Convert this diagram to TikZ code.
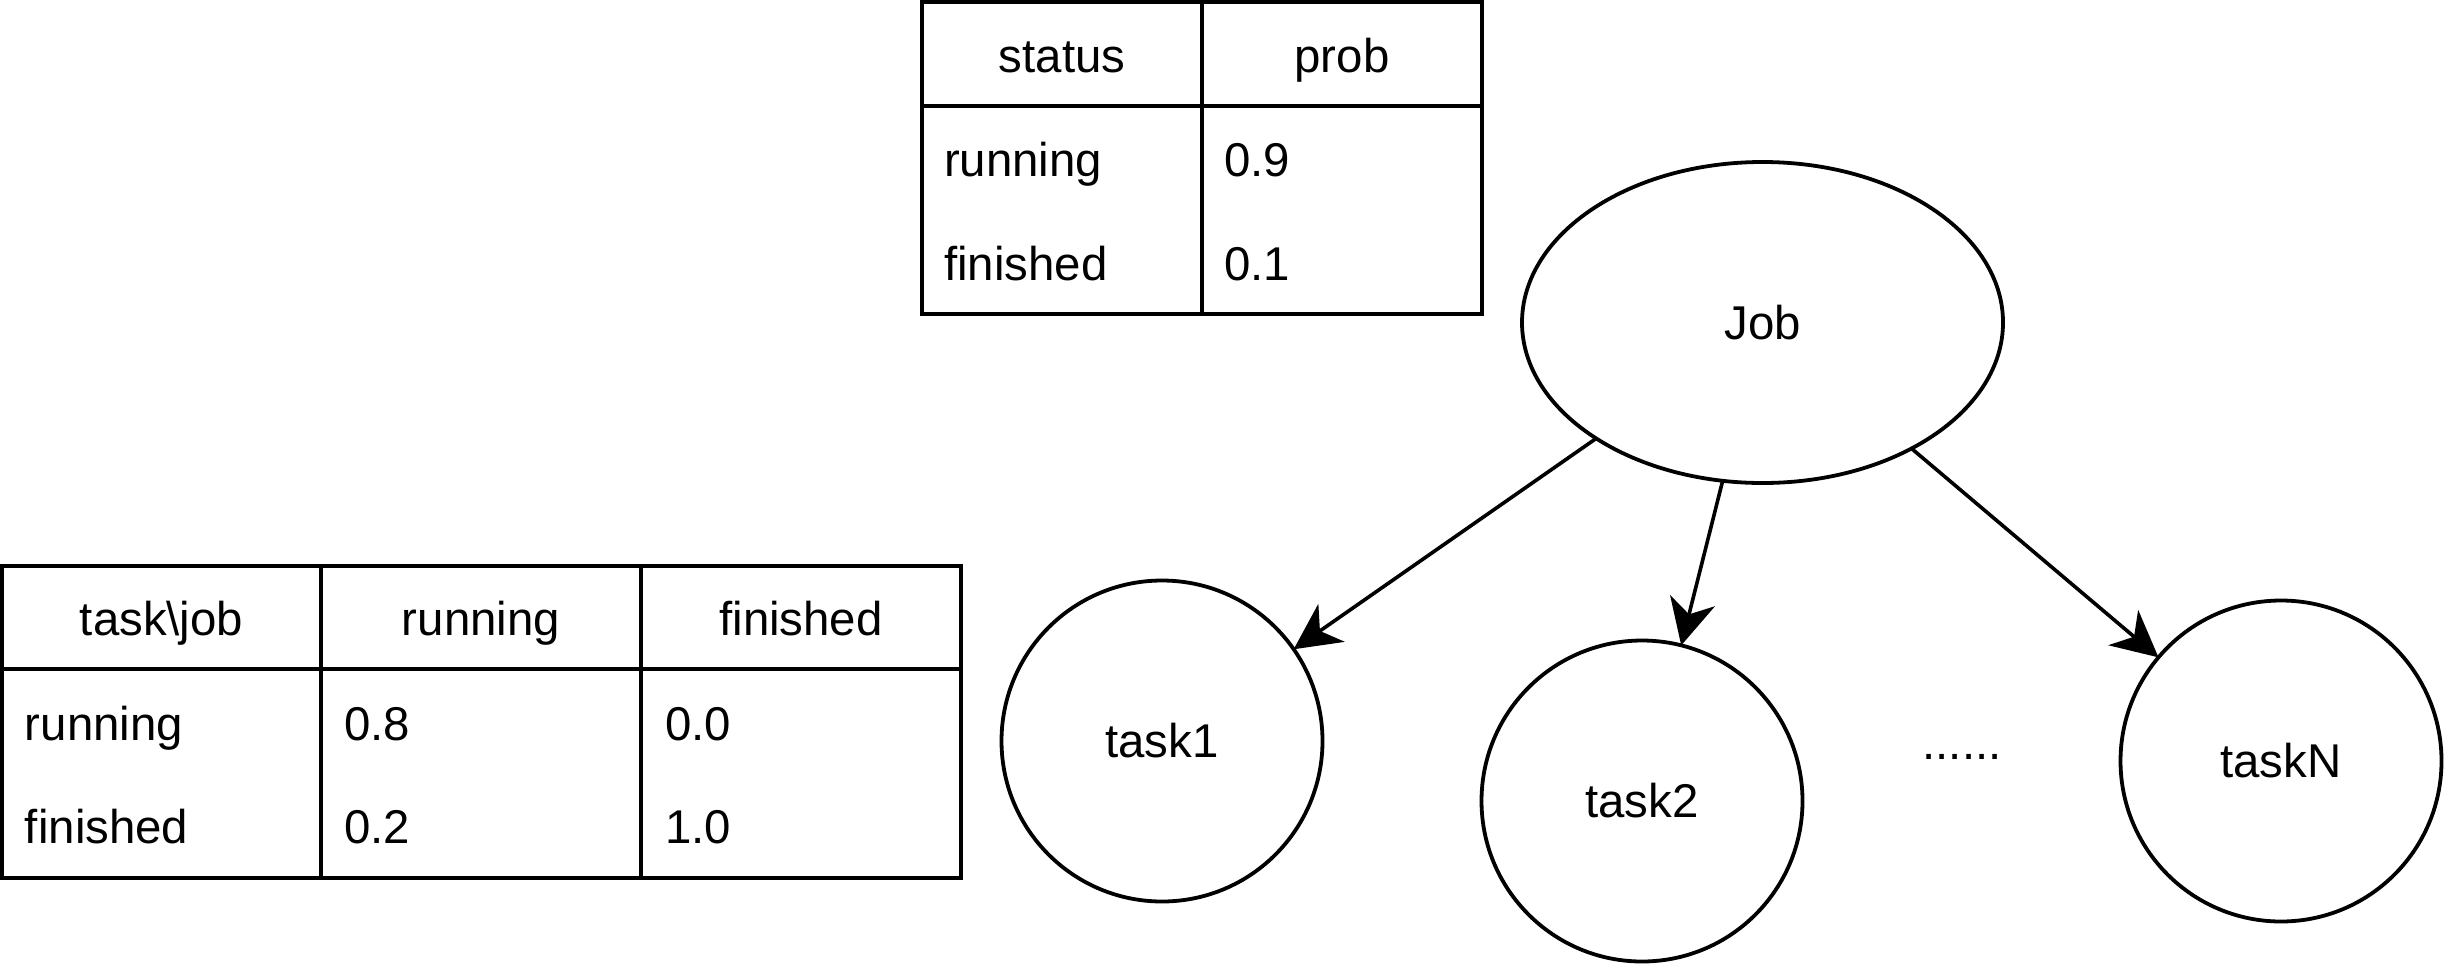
\documentclass[tikz,border=0pt]{standalone}
\usepackage{fontspec}
\setmainfont{Liberation Sans}
\usetikzlibrary{arrows.meta,shapes.geometric}
\begin{document}
\begin{tikzpicture}[x=0.5pt,y=-0.5pt,line width=1.9pt,
  every node/.style={font=\fontsize{23.7}{28}\selectfont,inner sep=0pt,outer sep=0pt},
  grid/.style={draw,line width=1.9pt},
  cell/.style={anchor=base west},
  head/.style={anchor=base},
  circ/.style={draw,circle,minimum size=160.5pt},
  jobshape/.style={draw,ellipse,minimum width=240.5pt,minimum height=160.5pt},
  link/.style={-{Stealth[length=23pt,width=23pt,inset=7pt]},line width=1.8pt}]
\useasboundingbox (0,0) rectangle (2444,964);
% top table
\draw[grid] (922,2) rectangle (1482,314) (1202,2) -- (1202,314) (922,106) -- (1482,106);
\node[head] (hstatus) at (1062,72) {status};
\node[head] (hprob) at (1342,72) {prob};
\node[cell] (srun) at (944,176) {running};
\node[cell] (prun) at (1224,176) {0.9};
\node[cell] (sfin) at (944,280) {finished};
\node[cell] (pfin) at (1224,280) {0.1};
% bottom table
\draw[grid] (2,566) rectangle (961,878) (321,566) -- (321,878) (641,566) -- (641,878) (2,669) -- (961,669);
\node[head] (htj) at (161.5,635) {task\textbackslash job};
\node[head] (hrun) at (481,635) {running};
\node[head] (hfin) at (801,635) {finished};
\node[cell] (rrun) at (25,740) {running};
\node[cell] (r08) at (344,740) {0.8};
\node[cell] (r00) at (665,740) {0.0};
\node[cell] (ffin) at (25,843) {finished};
\node[cell] (f02) at (344,843) {0.2};
\node[cell] (f10) at (665,843) {1.0};
% graph
\node[jobshape] (job) at (1762.5,322.5) {Job};
\node[circ] (t1) at (1162,741) {task1};
\node[circ] (t2) at (1642,801) {task2};
\node[circ] (tN) at (2281,761) {taskN};
\node[anchor=base] (dots) at (1962,759) {......};
\draw[link] (job) -- (t1);
\draw[link] (job) -- (t2);
\draw[link] (job) -- (tN);
\end{tikzpicture}
\end{document}
